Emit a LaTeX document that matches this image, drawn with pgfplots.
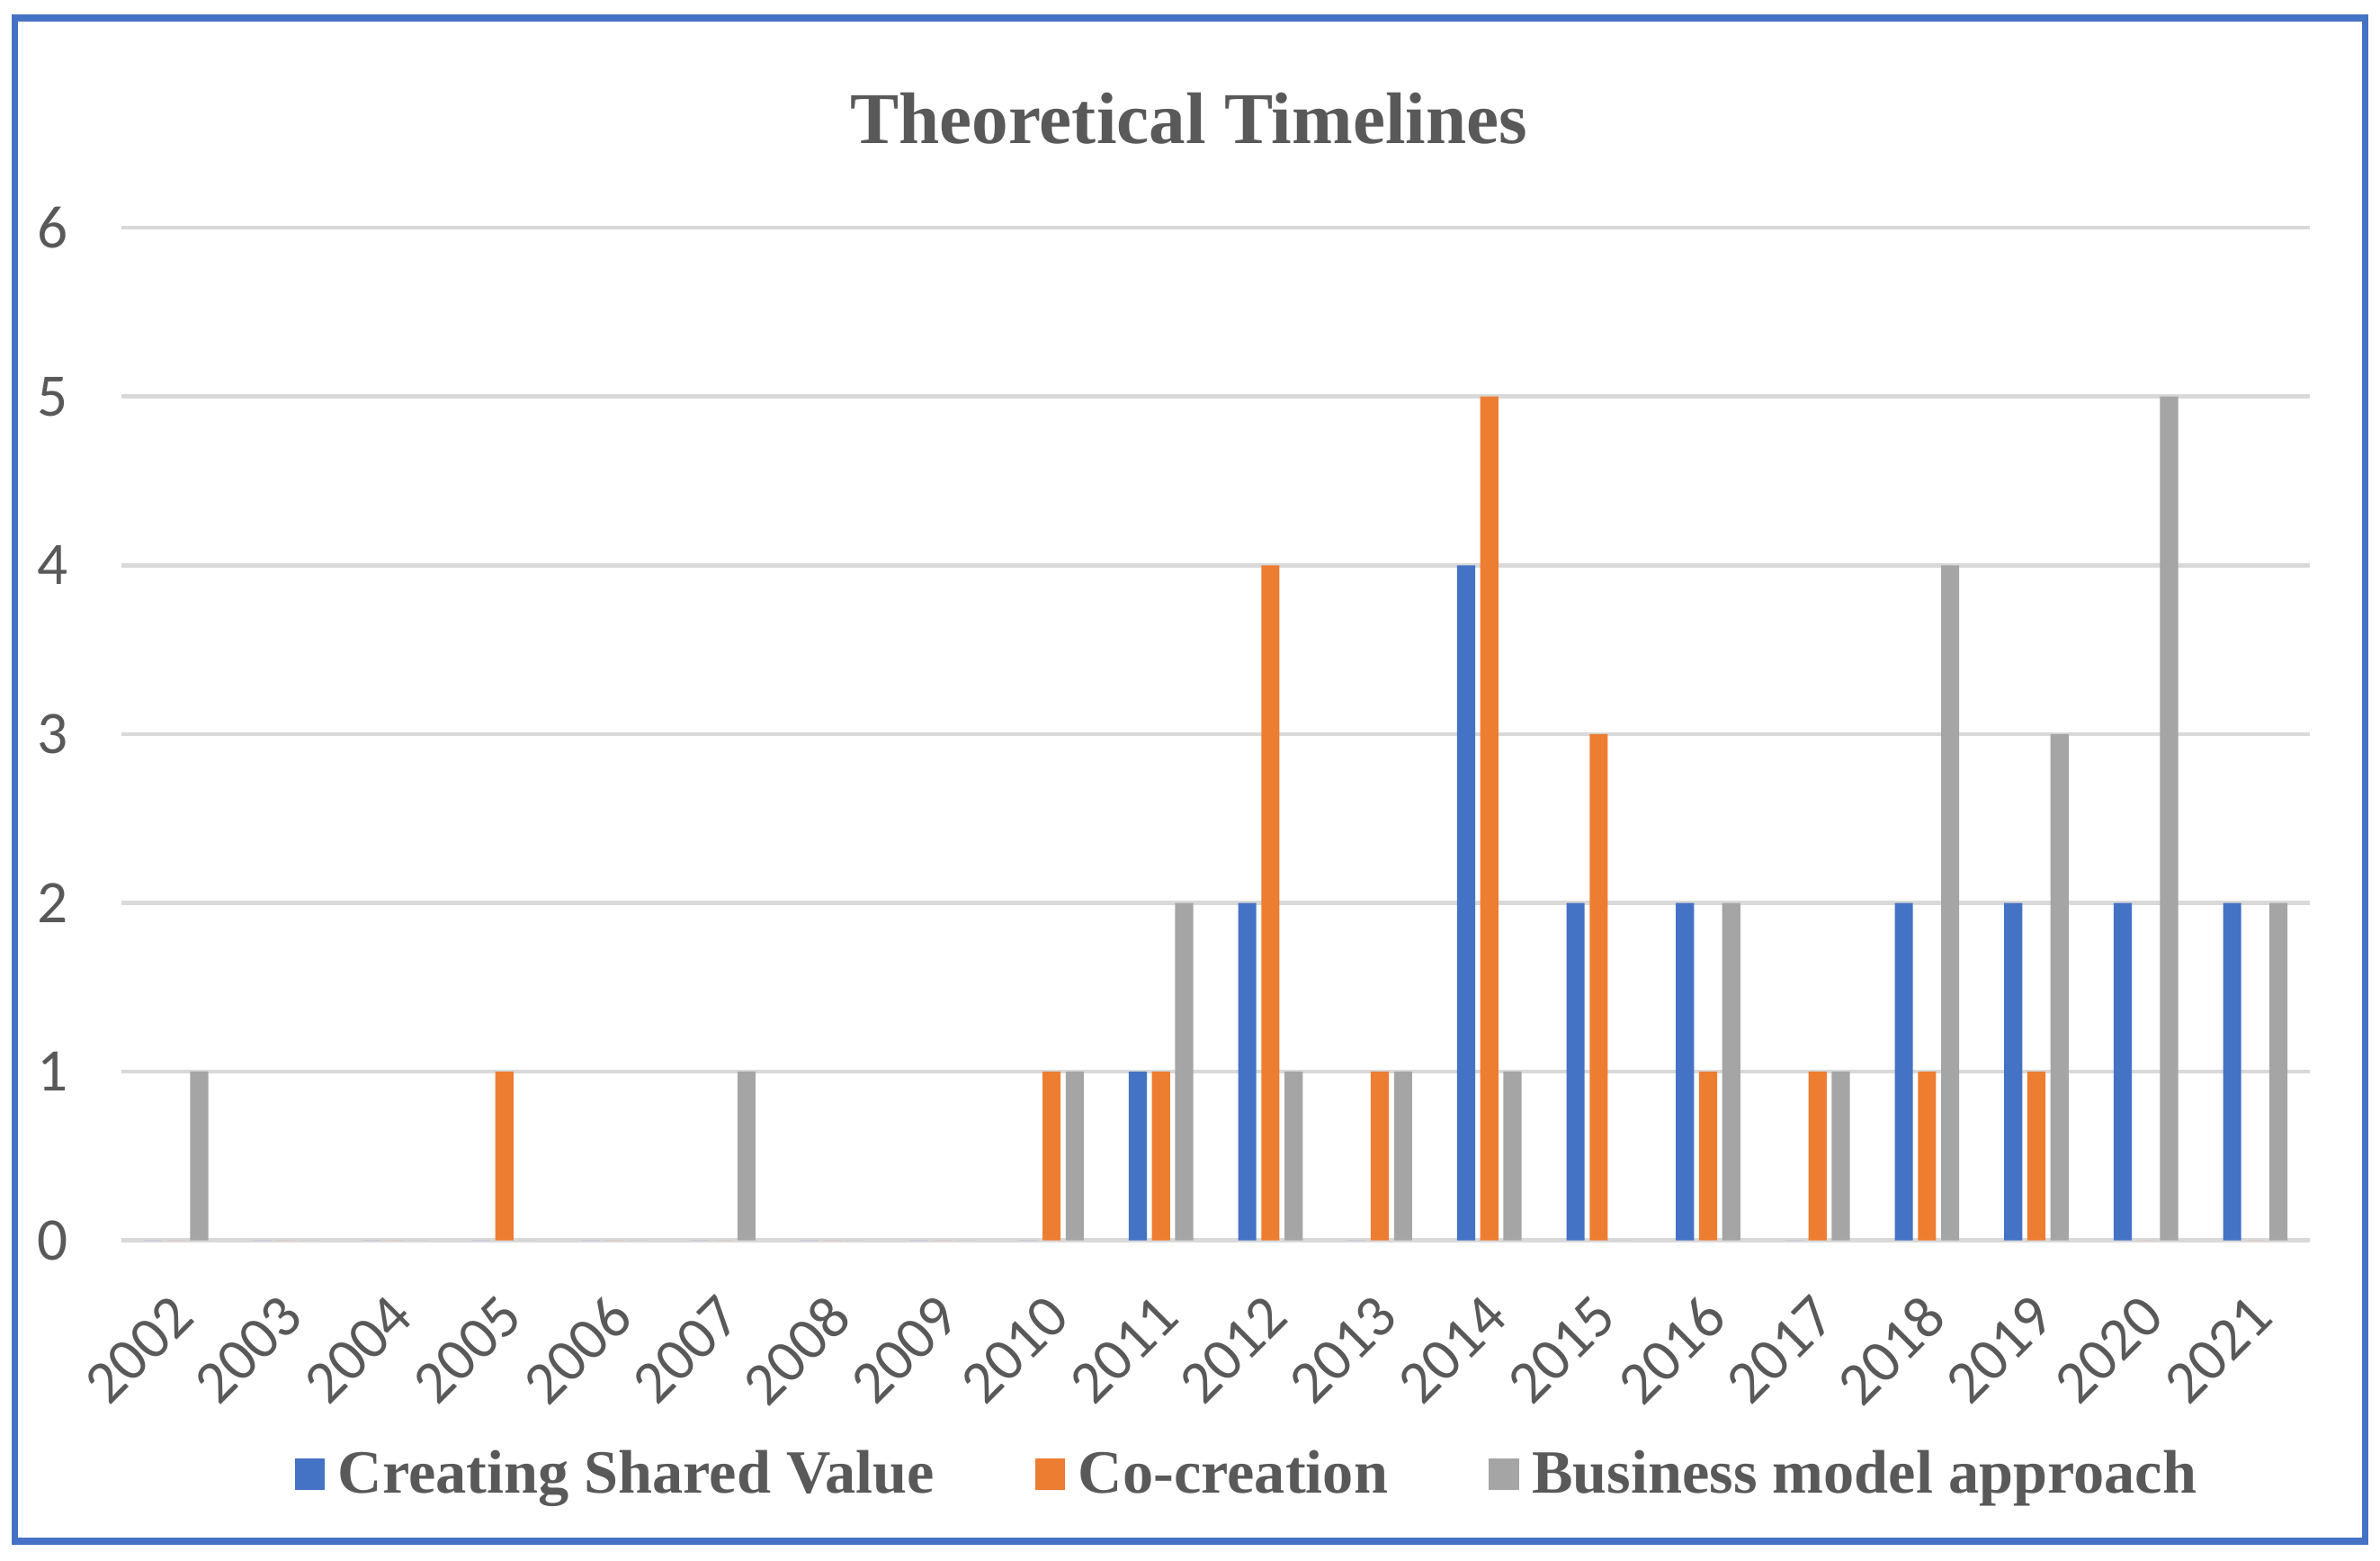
\documentclass[border=0pt]{standalone}
\usepackage{pgfplots}
\usepackage{pgfplotstable}
\pgfplotsset{compat=1.18}
\usepackage{fontspec}
\setmainfont{Liberation Serif}
\newfontfamily\carlito{Carlito}

\definecolor{csv}{HTML}{4472C4}
\definecolor{cocr}{HTML}{ED7D31}
\definecolor{bma}{HTML}{A5A5A5}
\definecolor{txt}{HTML}{595959}
\definecolor{gridc}{HTML}{D9D9D9}

% year index, Creating Shared Value, Co-creation, Business model approach
\pgfplotstableread{
x  csv co bm
0  0   0  1
1  0   0  0
2  0   0  0
3  0   1  0
4  0   0  0
5  0   0  1
6  0   0  0
7  0   0  0
8  0   1  1
9  1   1  2
10 2   4  1
11 0   1  1
12 4   5  1
13 2   3  0
14 2   1  2
15 0   1  1
16 2   1  4
17 2   1  3
18 2   0  5
19 2   0  2
}\timelines

\begin{document}
\begin{tikzpicture}
\useasboundingbox (0,0) rectangle (472.5pt,309.8pt);
\draw[csv, line width=1.3pt] (3pt,3.9pt) rectangle (469.6pt,306.2pt);
\node[font=\bfseries\fontsize{14.5}{17}\selectfont, text=txt] at (236pt,286.3pt) {Theoretical Timelines};
\begin{axis}[
    at={(24.1pt,63.6pt)}, anchor=south west,
    scale only axis, width=434.5pt, height=201pt,
    ybar=1pt, bar width=3.6pt,
    xmin=-0.5, xmax=19.5, ymin=0, ymax=6,
    xtick=data,
    xticklabels={2002,2003,2004,2005,2006,2007,2008,2009,2010,2011,2012,2013,2014,2015,2016,2017,2018,2019,2020,2021},
    ytick={0,1,2,3,4,5,6},
    major tick length=0pt,
    axis line style={draw=none},
    ymajorgrids, xmajorgrids=false,
    y grid style={color=gridc, line width=0.8pt},
    /pgf/number format/assume math mode=true,
    ticklabel style={font=\carlito\fontsize{12}{14}\selectfont, text=txt},
    yticklabel style={xshift=-7pt},
    xticklabel style={xshift=-1.5pt, yshift=-10pt, rotate=45, anchor=north east, inner sep=0pt},
    legend columns=3,
    legend style={draw=none, fill=none, at={(0.516,-0.232)}, anchor=center,
        font=\bfseries\fontsize{12.2}{14}\selectfont, text=txt,
        /tikz/every odd column/.append style={column sep=0.6pt},
        /tikz/every even column/.append style={column sep=18pt}},
    legend image code/.code={\fill[#1,/tikz/.cd,draw=none] (0pt,-2.8pt) rectangle (6pt,3.4pt);},
]
\addplot[fill=csv, draw=none] table[x=x, y=csv] {\timelines};
\addplot[fill=cocr, draw=none] table[x=x, y=co] {\timelines};
\addplot[fill=bma, draw=none] table[x=x, y=bm] {\timelines};
\legend{Creating Shared Value, Co-creation, Business model approach}
\end{axis}
\end{tikzpicture}
\end{document}
